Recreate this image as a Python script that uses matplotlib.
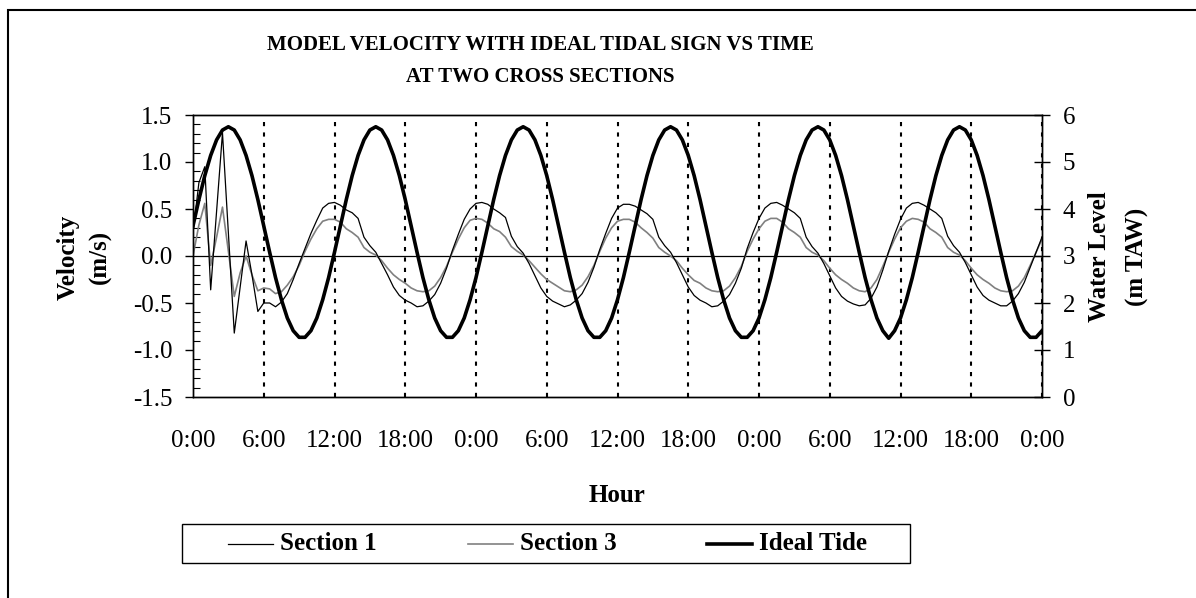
import numpy as np
import matplotlib.pyplot as plt
from matplotlib.patches import Rectangle
from matplotlib.lines import Line2D
from matplotlib.ticker import MultipleLocator

plt.rcParams['font.family'] = 'Liberation Serif'
plt.rcParams['axes.unicode_minus'] = False

# time axis, half-hour steps over three days
hours = np.arange(0, 72.5, 0.5)
tick_hours = list(range(0, 73, 6))
tick_labels = ['0:00', '6:00', '12:00', '18:00'] * 3 + ['0:00']

# velocity (m/s)
section1 = [
    0.25, 0.78, 0.95, -0.36, 0.47, 1.31, 0.25, -0.82, -0.33, 0.16, -0.20, -0.59, -0.50,
    -0.50, -0.54, -0.49, -0.40, -0.25, -0.08,
    0.08, 0.24, 0.38, 0.51, 0.56, 0.57, 0.54, 0.49, 0.46, 0.40, 0.20, 0.11, 0.04,
    -0.08, -0.20, -0.33, -0.42, -0.47, -0.50, -0.54, -0.53, -0.48, -0.41, -0.29, -0.13,
    0.06, 0.23, 0.39, 0.50, 0.56, 0.57, 0.55, 0.50, 0.46, 0.41, 0.21, 0.10, 0.03,
    -0.08, -0.21, -0.34, -0.43, -0.48, -0.51, -0.54, -0.52, -0.47, -0.40, -0.28, -0.12,
    0.07, 0.24, 0.40, 0.51, 0.55, 0.55, 0.53, 0.49, 0.45, 0.39, 0.20, 0.11, 0.04,
    -0.07, -0.20, -0.33, -0.42, -0.47, -0.50, -0.54, -0.53, -0.48, -0.41, -0.29, -0.13,
    0.08, 0.25, 0.40, 0.51, 0.56, 0.57, 0.54, 0.50, 0.46, 0.40, 0.20, 0.10, 0.03,
    -0.08, -0.21, -0.34, -0.43, -0.48, -0.51, -0.53, -0.52, -0.45, -0.33, -0.15,
    0.05, 0.23, 0.39, 0.51, 0.56, 0.57, 0.54, 0.50, 0.46, 0.40, 0.21, 0.11, 0.04,
    -0.07, -0.20, -0.33, -0.42, -0.47, -0.50, -0.53, -0.53, -0.48, -0.40, -0.28, -0.12,
    0.04, 0.20,
]
section3 = [
    0.00, 0.33, 0.56, -0.10, 0.20, 0.52, 0.05, -0.43, -0.18, 0.00, -0.20, -0.37, -0.34,
    -0.35, -0.40, -0.38, -0.31, -0.22, -0.10,
    0.05, 0.18, 0.29, 0.37, 0.39, 0.39, 0.36, 0.29, 0.25, 0.20, 0.09, 0.04, 0.01,
    -0.05, -0.13, -0.20, -0.25, -0.29, -0.34, -0.37, -0.38, -0.37, -0.32, -0.23, -0.11,
    0.04, 0.18, 0.30, 0.38, 0.40, 0.39, 0.35, 0.29, 0.26, 0.20, 0.10, 0.05, 0.01,
    -0.05, -0.12, -0.19, -0.25, -0.29, -0.33, -0.37, -0.38, -0.36, -0.31, -0.22, -0.10,
    0.05, 0.19, 0.30, 0.37, 0.39, 0.39, 0.36, 0.30, 0.25, 0.19, 0.09, 0.04, 0.00,
    -0.05, -0.13, -0.20, -0.26, -0.29, -0.34, -0.37, -0.38, -0.37, -0.32, -0.23, -0.11,
    0.05, 0.18, 0.29, 0.37, 0.40, 0.40, 0.36, 0.29, 0.25, 0.20, 0.09, 0.04, 0.01,
    -0.05, -0.13, -0.20, -0.25, -0.29, -0.34, -0.37, -0.38, -0.34, -0.25, -0.11,
    0.04, 0.18, 0.30, 0.37, 0.40, 0.39, 0.36, 0.29, 0.25, 0.20, 0.09, 0.04, 0.01,
    -0.05, -0.13, -0.20, -0.25, -0.29, -0.34, -0.37, -0.38, -0.37, -0.32, -0.23, -0.10,
    0.04, 0.18,
]

# water level (m TAW)
ideal_tide = [
    3.64, 4.20, 4.71, 5.14, 5.47, 5.68, 5.75,
    5.68, 5.47, 5.14, 4.71, 4.20, 3.64, 3.08, 2.54, 2.07, 1.68, 1.41, 1.27,
    1.27, 1.41, 1.68, 2.07, 2.54, 3.08, 3.64, 4.20, 4.71, 5.14, 5.47, 5.68, 5.75,
    5.68, 5.47, 5.14, 4.71, 4.20, 3.64, 3.08, 2.54, 2.07, 1.68, 1.41, 1.27,
    1.27, 1.41, 1.68, 2.07, 2.54, 3.08, 3.64, 4.20, 4.71, 5.14, 5.47, 5.68, 5.75,
    5.68, 5.47, 5.14, 4.71, 4.20, 3.64, 3.08, 2.54, 2.07, 1.68, 1.41, 1.27,
    1.27, 1.41, 1.68, 2.07, 2.54, 3.08, 3.64, 4.20, 4.71, 5.14, 5.47, 5.68, 5.75,
    5.68, 5.47, 5.14, 4.71, 4.20, 3.64, 3.08, 2.54, 2.07, 1.68, 1.41, 1.27,
    1.27, 1.41, 1.68, 2.07, 2.54, 3.08, 3.64, 4.20, 4.71, 5.14, 5.47, 5.68, 5.75,
    5.68, 5.47, 5.14, 4.71, 4.20, 3.64, 3.08, 2.54, 2.07, 1.68, 1.41, 1.25,
    1.41, 1.68, 2.07, 2.54, 3.08, 3.64, 4.20, 4.71, 5.14, 5.47, 5.68, 5.75,
    5.68, 5.47, 5.14, 4.71, 4.20, 3.64, 3.08, 2.54, 2.07, 1.68, 1.41, 1.27,
    1.27, 1.41,
]

W, H = 1196, 598
fig = plt.figure(figsize=(W / 100, H / 100), dpi=100)
ax = fig.add_axes([193 / W, 1 - 397 / H, (1042 - 193) / W, (397 - 115) / H])
ax2 = ax.twinx()

# dotted gridlines every 6 hours and the zero line
for h in tick_hours[1:]:
    ax.axvline(h, color='black', lw=1.5, ls=(0, (2, 3)), zorder=1)
ax.axhline(0, color='black', lw=0.9, zorder=1)

l1, = ax.plot(hours, section1, color='black', lw=0.9, zorder=3)
l3, = ax.plot(hours, section3, color='#808080', lw=1.2, zorder=2)
lt, = ax2.plot(hours, ideal_tide, color='black', lw=2.6)

ax.set_xlim(0, 72)
ax.set_ylim(-1.5, 1.5)
ax.set_yticks(np.arange(-1.5, 1.51, 0.5))
ax.set_yticklabels(['%.1f' % v for v in np.arange(-1.5, 1.51, 0.5)])
ax.yaxis.set_minor_locator(MultipleLocator(0.1))
ax.tick_params(axis='y', which='major', direction='out', length=6, width=1, pad=9, labelsize=18)
ax.tick_params(axis='y', which='minor', direction='in', length=5, width=0.8)
ax.set_xticks(tick_hours)
ax.set_xticklabels(tick_labels)
ax.tick_params(axis='x', length=0, pad=24, labelsize=18)

ax2.set_ylim(0, 6)
ax2.set_yticks(range(0, 7))
ax2.tick_params(axis='y', direction='inout', length=12, width=1, pad=9, labelsize=18)

for a in (ax, ax2):
    for s in a.spines.values():
        s.set_linewidth(1.0)

# axis titles, one text per line
bold18 = dict(fontsize=18, fontweight='bold', va='center', ha='center')
fig.text(68 / W, 1 - 257 / H, 'Velocity', rotation=90, **bold18)
fig.text(100 / W, 1 - 257 / H, '(m/s)', rotation=90, **bold18)
fig.text(1100 / W, 1 - 257 / H, 'Water Level', rotation=90, **bold18)
fig.text(1137 / W, 1 - 257 / H, '(m TAW)', rotation=90, **bold18)
fig.text(617 / W, 1 - 495 / H, 'Hour', **bold18)

fig.text(540 / W, 1 - 45 / H, 'MODEL VELOCITY WITH IDEAL TIDAL SIGN VS TIME',
         ha='center', va='center', fontsize=15, fontweight='bold')
fig.text(540 / W, 1 - 77 / H, 'AT TWO CROSS SECTIONS',
         ha='center', va='center', fontsize=15, fontweight='bold')

# legend box, drawn like the spreadsheet legend
fig.add_artist(Rectangle((182 / W, 1 - 563 / H), (910 - 182) / W, 39 / H,
                         transform=fig.transFigure, fill=False, lw=1.0, edgecolor='black'))
legend_items = [(l1, 'Section 1', 228), (l3, 'Section 3', 468), (lt, 'Ideal Tide', 707)]
for line, name, x0 in legend_items:
    fig.add_artist(Line2D([x0 / W, (x0 + 45) / W], [1 - 543.5 / H] * 2, transform=fig.transFigure,
                          color=line.get_color(), lw=line.get_linewidth()))
    fig.text((x0 + 52) / W, 1 - 543.5 / H, name, ha='left', va='center',
             fontsize=18, fontweight='bold')

# outer chart border (cut off at right and bottom)
fig.add_artist(Rectangle((8 / W, -0.5), 2, 1.5 - 10 / H, transform=fig.transFigure,
                         fill=False, lw=1.5, edgecolor='black'))

fig.savefig('out.png', dpi=100)
